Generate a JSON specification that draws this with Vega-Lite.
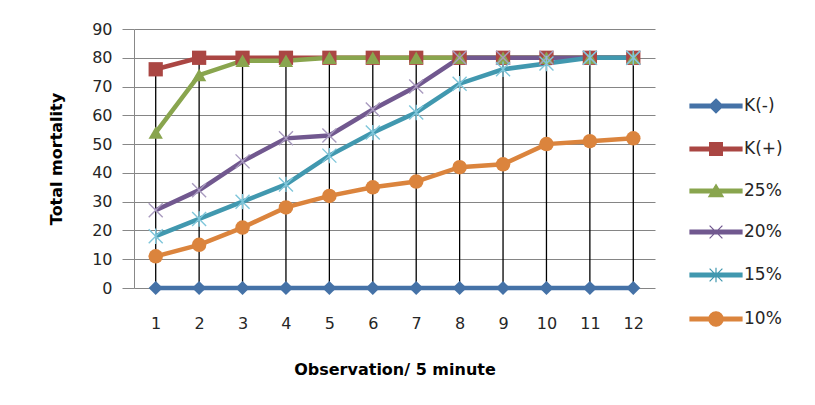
{
  "$schema": "https://vega.github.io/schema/vega-lite/v6.json",
  "autosize": "none",
  "width": 521,
  "height": 259,
  "padding": {"left": 134, "top": 29, "right": 160, "bottom": 117},
  "background": "white",
  "config": {
    "view": {"stroke": null},
    "font": "DejaVu Sans",
    "axis": {"labelFont": "DejaVu Sans", "titleFont": "DejaVu Sans", "labelColor": "#262626", "titleColor": "#000000"},
    "legend": {"labelFont": "DejaVu Sans"}
  },
  "resolve": {"scale": {"shape": "independent"}},
  "data": {
    "values": [
      {"obs": 1, "series": "K(-)", "value": 0}, {"obs": 2, "series": "K(-)", "value": 0}, {"obs": 3, "series": "K(-)", "value": 0}, {"obs": 4, "series": "K(-)", "value": 0}, {"obs": 5, "series": "K(-)", "value": 0}, {"obs": 6, "series": "K(-)", "value": 0}, {"obs": 7, "series": "K(-)", "value": 0}, {"obs": 8, "series": "K(-)", "value": 0}, {"obs": 9, "series": "K(-)", "value": 0}, {"obs": 10, "series": "K(-)", "value": 0}, {"obs": 11, "series": "K(-)", "value": 0}, {"obs": 12, "series": "K(-)", "value": 0},
      {"obs": 1, "series": "K(+)", "value": 76}, {"obs": 2, "series": "K(+)", "value": 80}, {"obs": 3, "series": "K(+)", "value": 80}, {"obs": 4, "series": "K(+)", "value": 80}, {"obs": 5, "series": "K(+)", "value": 80}, {"obs": 6, "series": "K(+)", "value": 80}, {"obs": 7, "series": "K(+)", "value": 80}, {"obs": 8, "series": "K(+)", "value": 80}, {"obs": 9, "series": "K(+)", "value": 80}, {"obs": 10, "series": "K(+)", "value": 80}, {"obs": 11, "series": "K(+)", "value": 80}, {"obs": 12, "series": "K(+)", "value": 80},
      {"obs": 1, "series": "25%", "value": 54}, {"obs": 2, "series": "25%", "value": 74}, {"obs": 3, "series": "25%", "value": 79}, {"obs": 4, "series": "25%", "value": 79}, {"obs": 5, "series": "25%", "value": 80}, {"obs": 6, "series": "25%", "value": 80}, {"obs": 7, "series": "25%", "value": 80}, {"obs": 8, "series": "25%", "value": 80}, {"obs": 9, "series": "25%", "value": 80}, {"obs": 10, "series": "25%", "value": 80}, {"obs": 11, "series": "25%", "value": 80}, {"obs": 12, "series": "25%", "value": 80},
      {"obs": 1, "series": "20%", "value": 27}, {"obs": 2, "series": "20%", "value": 34}, {"obs": 3, "series": "20%", "value": 44}, {"obs": 4, "series": "20%", "value": 52}, {"obs": 5, "series": "20%", "value": 53}, {"obs": 6, "series": "20%", "value": 62}, {"obs": 7, "series": "20%", "value": 70}, {"obs": 8, "series": "20%", "value": 80}, {"obs": 9, "series": "20%", "value": 80}, {"obs": 10, "series": "20%", "value": 80}, {"obs": 11, "series": "20%", "value": 80}, {"obs": 12, "series": "20%", "value": 80},
      {"obs": 1, "series": "15%", "value": 18}, {"obs": 2, "series": "15%", "value": 24}, {"obs": 3, "series": "15%", "value": 30}, {"obs": 4, "series": "15%", "value": 36}, {"obs": 5, "series": "15%", "value": 46}, {"obs": 6, "series": "15%", "value": 54}, {"obs": 7, "series": "15%", "value": 61}, {"obs": 8, "series": "15%", "value": 71}, {"obs": 9, "series": "15%", "value": 76}, {"obs": 10, "series": "15%", "value": 78}, {"obs": 11, "series": "15%", "value": 80}, {"obs": 12, "series": "15%", "value": 80},
      {"obs": 1, "series": "10%", "value": 11}, {"obs": 2, "series": "10%", "value": 15}, {"obs": 3, "series": "10%", "value": 21}, {"obs": 4, "series": "10%", "value": 28}, {"obs": 5, "series": "10%", "value": 32}, {"obs": 6, "series": "10%", "value": 35}, {"obs": 7, "series": "10%", "value": 37}, {"obs": 8, "series": "10%", "value": 42}, {"obs": 9, "series": "10%", "value": 43}, {"obs": 10, "series": "10%", "value": 50}, {"obs": 11, "series": "10%", "value": 51}, {"obs": 12, "series": "10%", "value": 52}
    ]
  },
  "encoding": {
    "x": {
      "field": "obs", "type": "ordinal",
      "scale": {"type": "point", "padding": 0.5},
      "axis": {"title": "Observation/ 5 minute", "labelAngle": 0, "labelFontSize": 16, "labelPadding": 27, "ticks": false, "domain": false, "grid": false, "titleFontSize": 16, "titleFontWeight": "bold", "titlePadding": 30}
    },
    "y": {
      "field": "value", "type": "quantitative",
      "scale": {"domain": [0, 90], "nice": false},
      "axis": {"title": "Total mortality", "values": [0, 10, 20, 30, 40, 50, 60, 70, 80, 90], "labelFontSize": 16, "labelPadding": 10, "tickSize": 12, "tickColor": "#888888", "domainColor": "#888888", "gridColor": "#858585", "gridWidth": 1, "titleFontSize": 16, "titleFontWeight": "bold", "titlePadding": 27}
    }
  },
  "layer": [
    {
      "transform": [{"filter": "datum.series === 'K(+)'"}],
      "mark": {"type": "rule", "color": "#000000", "strokeWidth": 1.3},
      "encoding": {"y2": {"datum": 0}}
    },
    {
      "mark": {"type": "line", "strokeWidth": 4.5},
      "encoding": {
        "color": {
          "field": "series", "type": "nominal",
          "scale": {"domain": ["K(-)", "K(+)", "25%", "20%", "15%", "10%"], "range": ["#4572A7", "#AA4643", "#89A54E", "#71588F", "#4198AF", "#DB843D"]},
          "legend": {
            "title": null, "orient": "none", "legendX": 573, "legendY": 68,
            "symbolSize": 256, "rowPadding": 24, "labelOffset": 19, "labelFontSize": 17, "labelColor": "#262626", "padding": 0,
            "encode": {
              "symbols": {
                "update": {
                  "shape": {"signal": "datum.value === 'K(-)' ? 'M-3.25,-0.25H3.25V0.25H-3.25Z M0,-0.875L0.875,0L0,0.875L-0.875,0Z' : datum.value === 'K(+)' ? 'M-3.25,-0.25H3.25V0.25H-3.25Z M-0.8,-0.8H0.8V0.8H-0.8Z' : datum.value === '25%' ? 'M-3.25,-0.25H3.25V0.25H-3.25Z M0,-0.8L0.9,0.7H-0.9Z' : datum.value === '20%' ? 'M-3.25,-0.25H3.25V0.25H-3.25Z M-0.8,-0.8L0.8,0.8M-0.8,0.8L0.8,-0.8' : datum.value === '15%' ? 'M-3.25,-0.25H3.25V0.25H-3.25Z M-0.8,-0.8L0.8,0.8M-0.8,0.8L0.8,-0.8M0,-0.9V0.9' : 'M-3.25,-0.25H3.25V0.25H-3.25Z M-0.9,0A0.9,0.9 0 1,1 0.9,0A0.9,0.9 0 1,1 -0.9,0Z'"},
                  "fill": {"scale": "color", "field": "value"},
                  "stroke": {"scale": "color", "field": "value"},
                  "strokeWidth": {"value": 1.2},
                  "fillOpacity": {"value": 1},
                  "opacity": {"value": 1}
                }
              }
            }
          }
        }
      }
    },
    {
      "transform": [{"filter": "datum.series !== '20%' && datum.series !== '15%'"}],
      "mark": {"type": "point", "filled": true, "opacity": 1, "size": 200},
      "encoding": {
        "shape": {"field": "series", "type": "nominal", "scale": {"domain": ["K(-)", "K(+)", "25%", "10%"], "range": ["diamond", "square", "triangle-up", "circle"]}, "legend": null},
        "fill": {"field": "series", "type": "nominal", "scale": {"domain": ["K(-)", "K(+)", "25%", "10%"], "range": ["#4572A7", "#AA4643", "#89A54E", "#DB843D"]}, "legend": null},
        "size": {"field": "series", "type": "nominal", "scale": {"domain": ["K(-)", "K(+)", "25%", "10%"], "range": [200, 210, 200, 260]}, "legend": null}
      }
    },
    {
      "transform": [{"filter": "datum.series === '20%' || datum.series === '15%'"}],
      "mark": {"type": "point", "filled": false, "opacity": 1, "size": 196, "strokeWidth": 1.4},
      "encoding": {
        "shape": {"field": "series", "type": "nominal", "scale": {"domain": ["20%", "15%"], "range": ["M-1,-1L1,1M-1,1L1,-1", "M-1,-1L1,1M-1,1L1,-1M0,-1.1V1.1"]}, "legend": null},
        "stroke": {"field": "series", "type": "nominal", "scale": {"domain": ["20%", "15%"], "range": ["#A99BBF", "#7FC6DA"]}, "legend": null}
      }
    }
  ]
}
